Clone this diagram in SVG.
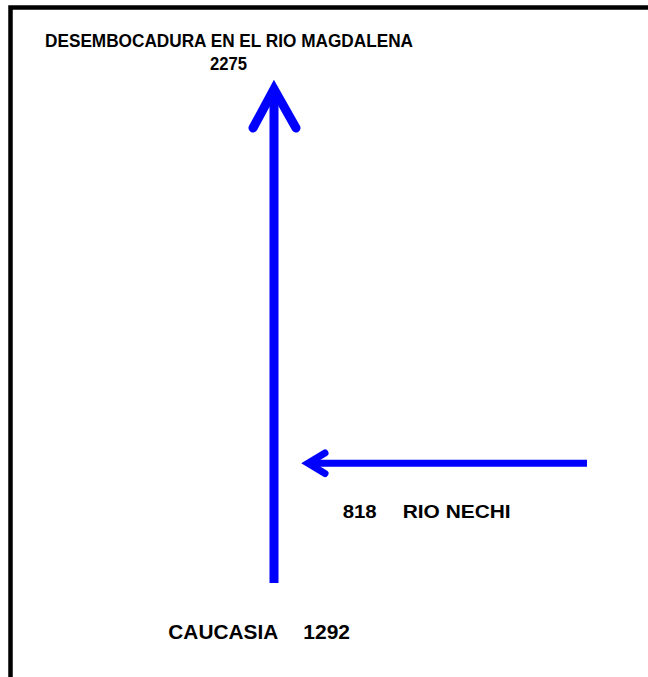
<svg xmlns="http://www.w3.org/2000/svg" width="648" height="677" viewBox="0 0 648 677">
<style>
.lbl{font-family:"Liberation Sans",Arial,sans-serif;font-weight:bold;fill:#000}
.shaft{stroke:#0000ff;fill:none;stroke-linecap:butt}
.head{stroke:#0000ff;fill:none;stroke-linecap:round;stroke-linejoin:miter;stroke-miterlimit:10}
</style>
<rect x="0" y="0" width="648" height="677" fill="#fff"/>
<rect id="frame" x="10.5" y="7.5" width="700" height="720" fill="none" stroke="#000" stroke-width="4.5"/>
<g id="connectors">
<line class="shaft" x1="274" y1="583" x2="274" y2="92" stroke-width="9"/>
<polyline class="head" points="253,128 274,89 296,128" stroke-width="9"/>
<line class="shaft" x1="587" y1="463.3" x2="308" y2="463.3" stroke-width="7"/>
<polyline class="head" points="325,453 308,463.3 325,473.5" stroke-width="7"/>
</g>
<g id="node-desembocadura">
<text class="lbl" x="45" y="47" font-size="18" textLength="368" lengthAdjust="spacingAndGlyphs">DESEMBOCADURA EN EL RIO MAGDALENA</text>
<text class="lbl" x="210" y="70" font-size="18" textLength="37" lengthAdjust="spacingAndGlyphs">2275</text>
</g>
<g id="node-nechi">
<text class="lbl" x="342.7" y="518" font-size="19" textLength="34" lengthAdjust="spacingAndGlyphs">818</text>
<text class="lbl" x="402.7" y="518" font-size="19" textLength="108" lengthAdjust="spacingAndGlyphs">RIO NECHI</text>
</g>
<g id="node-caucasia">
<text class="lbl" x="168.3" y="639" font-size="19.5" textLength="110" lengthAdjust="spacingAndGlyphs">CAUCASIA</text>
<text class="lbl" x="303.3" y="639" font-size="19.5" textLength="46.7" lengthAdjust="spacingAndGlyphs">1292</text>
</g>
</svg>
